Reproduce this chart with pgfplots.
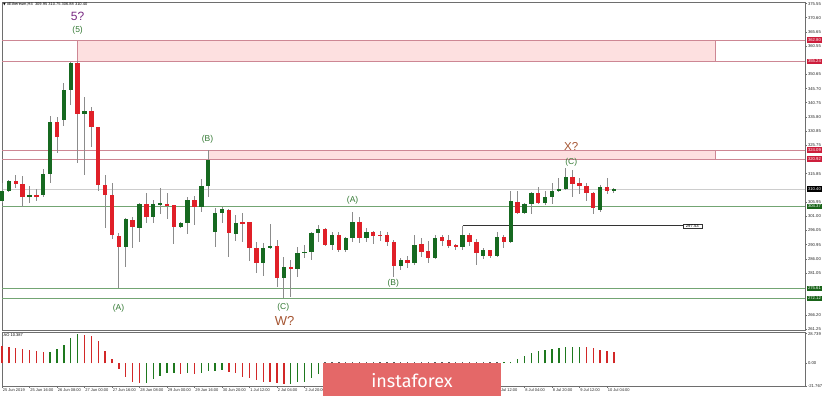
\documentclass[border=0pt]{standalone}
\usepackage{fontspec}
\setmainfont{Liberation Sans}
\newfontfamily\dejavu{DejaVu Sans}
\newfontfamily\bannerfont{Fira Sans}
\usepackage{pgfplots}
\pgfplotsset{compat=1.18}
\usepackage{pgfplotstable}

\definecolor{bullc}{RGB}{22,105,32}
\definecolor{bearc}{RGB}{224,32,40}
\definecolor{wickc}{RGB}{140,140,140}
\definecolor{aog}{RGB}{30,120,30}
\definecolor{aor}{RGB}{210,40,40}
\definecolor{zonefill}{RGB}{253,224,224}
\definecolor{zoneline}{RGB}{205,135,148}
\definecolor{zonered}{RGB}{205,30,60}
\definecolor{lvlgreen}{RGB}{115,165,115}
\definecolor{boxgreen}{RGB}{25,100,25}
\definecolor{curgray}{RGB}{205,205,205}
\definecolor{frame}{RGB}{110,110,110}
\definecolor{wpurple}{RGB}{120,40,130}
\definecolor{wgreen}{RGB}{50,120,50}
\definecolor{wbrown}{RGB}{165,85,50}
\definecolor{bannerc}{RGB}{228,104,104}

\pgfplotstableread{
i o h l c
0 306.3 312.5 305.5 309.9
1 309.8 313.7 309.3 313.4
4 307.7 311.7 305.7 308.2
6 308.2 317.4 307.6 315.6
7 315.6 336.1 312.7 333.9
9 334.7 347.6 332.6 345.3
10 345.3 355.1 340.0 354.6
12 336.8 342.9 315.4 337.9
18 290.0 300.2 283.2 299.9
20 296.7 305.5 292.0 305.2
22 300.8 306.6 298.5 305.1
23 305.2 311.0 301.7 305.5
26 297.3 299.0 296.7 298.5
27 298.5 307.8 294.7 306.6
29 304.3 313.9 302.5 311.6
30 311.6 324.2 307.8 320.7
31 295.5 303.7 290.3 302.2
32 302.2 304.1 298.7 303.5
34 294.7 301.4 292.4 298.5
38 284.4 291.4 280.0 289.7
39 289.7 298.1 289.3 290.5
41 279.1 286.5 272.1 283.0
43 282.3 290.3 279.7 287.9
44 287.9 290.8 286.2 288.5
45 288.5 295.5 285.6 295.2
46 295.2 297.9 292.0 296.5
48 290.8 295.5 289.1 294.4
50 288.9 293.8 288.5 293.2
51 293.2 302.5 292.0 298.8
53 293.2 296.7 292.0 295.5
58 283.5 286.2 282.1 285.6
60 284.4 294.4 283.8 290.8
63 286.2 294.4 285.8 293.4
67 290.0 297.5 288.9 294.4
70 287.0 289.7 285.8 289.1
72 287.0 295.5 286.7 293.8
74 291.8 309.6 291.7 306.1
76 302.0 305.7 301.7 305.1
77 305.1 309.6 301.7 309.2
79 305.7 309.6 304.9 307.6
80 307.6 312.5 305.2 309.8
81 309.8 314.2 309.6 310.4
82 310.4 317.8 310.1 314.8
87 303.1 311.9 302.5 311.1
89 309.95 310.75 308.9 310.40
}\bulltab

\pgfplotstableread{
i o h l c
2 313.3 315.4 310.7 312.1
3 312.1 315.1 304.0 307.6
5 308.2 310.5 306.3 308.0
8 333.9 335.9 323.0 328.6
11 354.6 355.3 319.5 336.8
13 337.9 339.4 325.1 332.4
14 332.1 332.4 309.9 311.9
15 311.9 315.4 296.7 308.4
16 308.4 312.7 292.8 294.4
17 294.1 294.9 275.6 290.0
19 299.6 300.8 289.7 297.0
21 305.2 309.0 298.7 300.6
24 305.2 309.0 299.9 304.6
25 304.8 305.0 291.2 297.0
28 306.6 308.0 297.9 304.3
33 303.1 303.4 286.5 294.9
35 298.7 302.2 292.0 298.5
36 298.8 299.0 285.3 289.7
37 289.7 292.0 280.9 284.4
40 290.5 292.6 276.0 279.1
42 283.0 285.6 272.7 282.3
47 296.5 296.7 290.5 290.8
49 294.4 295.5 288.5 288.9
52 298.8 300.8 291.7 293.2
54 295.5 295.8 291.2 294.1
55 294.4 295.9 292.4 294.1
56 294.4 295.5 290.5 292.0
57 292.0 292.6 279.5 283.6
59 285.6 286.8 282.7 284.4
61 291.2 293.2 286.7 288.5
62 288.7 292.2 284.4 286.2
64 293.5 294.4 290.5 292.4
65 292.6 294.4 289.7 290.5
66 290.6 291.2 289.1 290.4
68 294.4 294.9 290.3 292.0
69 292.0 292.8 283.8 287.9
71 288.9 289.1 286.2 287.0
73 293.8 294.4 289.7 291.8
75 305.8 309.9 301.7 302.0
78 309.2 311.3 305.2 305.7
83 314.8 317.2 307.6 312.3
84 312.5 314.2 308.7 311.7
85 311.7 312.5 306.1 309.0
86 309.0 309.6 301.7 303.7
88 311.1 314.2 308.7 309.9
}\beartab

\pgfplotsset{
  wickplot/.style={draw=none, mark=none, forget plot,
    error bars/.cd, y dir=both, y explicit, error mark=none,
    error bar style={draw=wickc, line width=0.9pt}},
  bodyplot/.style={draw=none, mark=none, forget plot,
    error bars/.cd, y dir=both, y explicit, error mark=none,
    error bar style={draw=#1, line width=4.4pt}},
}
\tikzset{
  pricebox/.style={anchor=west, xshift=1.5pt, text=white, inner sep=0.6pt,
    minimum width=15.5pt, minimum height=5.6pt,
    font=\fontsize{4.2}{5}\selectfont},
}

\begin{document}
\begin{tikzpicture}
\useasboundingbox (0pt,0pt) rectangle (823pt,396pt);

\begin{axis}[
  scale only axis, width=803pt, height=328pt,
  at={(2pt,66pt)}, anchor=south west,
  xmin=0, xmax=116.8, ymin=261.0, ymax=376.1,
  xtick=\empty,
  ytick={261.25,266.20,281.05,286.00,290.95,296.05,301.00,305.95,315.85,325.75,330.85,335.80,340.75,345.70,350.65,360.55,365.65,370.60,375.55},
  ytick pos=right, yticklabel pos=right,
  /pgf/number format/assume math mode=true,
  yticklabel={\pgfmathprintnumber[fixed,fixed zerofill,precision=2]{\tick}},
  yticklabel style={font=\fontsize{4.2}{5}\selectfont, text=black!85, inner sep=0.8pt},
  tick align=outside, major tick length=2pt,
  tick style={draw=frame, line width=0.5pt},
  axis line style={draw=frame, line width=0.9pt},
  clip=false,
]
% zones
\addplot[fill=zonefill, draw=zoneline, line width=0.6pt, forget plot]
  coordinates {(11,355.24) (103.8,355.24) (103.8,362.80) (11,362.80)} -- cycle;
\addplot[fill=zonefill, draw=zoneline, line width=0.6pt, forget plot]
  coordinates {(30,320.92) (103.8,320.92) (103.8,324.09) (30,324.09)} -- cycle;
% level lines
\addplot[zoneline, line width=0.7pt, forget plot] coordinates {(0,362.80) (116.8,362.80)};
\addplot[zoneline, line width=0.7pt, forget plot] coordinates {(0,355.24) (116.8,355.24)};
\addplot[zoneline, line width=0.7pt, forget plot] coordinates {(0,324.09) (116.8,324.09)};
\addplot[zoneline, line width=0.7pt, forget plot] coordinates {(0,320.92) (116.8,320.92)};
\addplot[curgray, line width=0.6pt, forget plot] coordinates {(0,310.40) (116.8,310.40)};
\addplot[lvlgreen, line width=0.7pt, forget plot] coordinates {(0,304.37) (116.8,304.37)};
\addplot[lvlgreen, line width=0.7pt, forget plot] coordinates {(0,275.61) (116.8,275.61)};
\addplot[lvlgreen, line width=0.7pt, forget plot] coordinates {(0,272.12) (116.8,272.12)};
\addplot[black!80, line width=1pt, forget plot] coordinates {(67,297.53) (99.0,297.53)};

% candles: wicks
\addplot[wickplot] table[x=i, y expr={(\thisrow{h}+\thisrow{l})/2}, y error expr={(\thisrow{h}-\thisrow{l})/2}] {\bulltab};
\addplot[wickplot] table[x=i, y expr={(\thisrow{h}+\thisrow{l})/2}, y error expr={(\thisrow{h}-\thisrow{l})/2}] {\beartab};
% candles: bodies
\addplot[bodyplot=bullc] table[x=i, y expr={(\thisrow{o}+\thisrow{c})/2}, y error expr={max(abs(\thisrow{c}-\thisrow{o})/2,0.18)}] {\bulltab};
\addplot[bodyplot=bearc] table[x=i, y expr={(\thisrow{o}+\thisrow{c})/2}, y error expr={max(abs(\thisrow{c}-\thisrow{o})/2,0.18)}] {\beartab};

% line label
\node[anchor=west, draw=black!80, fill=white, inner sep=0.6pt, minimum width=19pt,
  font=\fontsize{4.2}{5}\selectfont] at (axis cs:99.0,297.53) {297.53};

% wave labels
\node[text=wpurple, font=\fontsize{12}{12}\selectfont] at (axis cs:11,371.2) {5?};
\node[text=wgreen, font=\fontsize{8.5}{9}\selectfont] at (axis cs:11,366.0) {(5)};
\node[text=wgreen, font=\fontsize{8.5}{9}\selectfont] at (axis cs:29.9,328.05) {(B)};
\node[text=wgreen, font=\fontsize{8.5}{9}\selectfont] at (axis cs:16.95,268.7) {(A)};
\node[text=wgreen, font=\fontsize{8.5}{9}\selectfont] at (axis cs:51.0,306.5) {(A)};
\node[text=wgreen, font=\fontsize{8.5}{9}\selectfont] at (axis cs:40.9,269.1) {(C)};
\node[text=wbrown, font=\fontsize{13}{13}\selectfont] at (axis cs:41.1,264.2) {W?};
\node[text=wgreen, font=\fontsize{8.5}{9}\selectfont] at (axis cs:56.9,277.5) {(B)};
\node[text=wgreen, font=\fontsize{8.5}{9}\selectfont] at (axis cs:82.8,319.8) {(C)};
\node[text=wbrown, font=\fontsize{11.5}{12}\selectfont] at (axis cs:82.8,325.4) {X?};

% price boxes on the right
\node[pricebox, fill=zonered] at (axis cs:116.8,362.80) {362.80};
\node[pricebox, fill=zonered] at (axis cs:116.8,355.24) {355.24};
\node[pricebox, fill=zonered] at (axis cs:116.8,324.09) {324.09};
\node[pricebox, fill=zonered] at (axis cs:116.8,320.92) {320.92};
\node[pricebox, fill=black] at (axis cs:116.8,310.40) {310.40};
\node[pricebox, fill=boxgreen] at (axis cs:116.8,304.37) {304.37};
\node[pricebox, fill=boxgreen] at (axis cs:116.8,275.61) {275.61};
\node[pricebox, fill=boxgreen] at (axis cs:116.8,272.12) {272.12};
\end{axis}

\begin{axis}[
  scale only axis, width=803pt, height=54pt,
  at={(2pt,10pt)}, anchor=south west,
  xmin=0, xmax=116.8, ymin=-22.0, ymax=30.4,
  xtick={0,4,...,88},
  xticklabels={25 Jun 2019,25 Jun 16:00,26 Jun 08:00,27 Jun 00:00,27 Jun 16:00,28 Jun 08:00,29 Jun 00:00,29 Jun 16:00,30 Jun 20:00,1 Jul 12:00,2 Jul 04:00,2 Jul 20:00,{},{},{},{},{},{},7 Jul 12:00,8 Jul 04:00,8 Jul 20:00,9 Jul 12:00,10 Jul 04:00},
  xtick pos=bottom,
  xticklabel style={anchor=north west, font=\fontsize{4}{5}\selectfont, text=black!85, inner sep=0.6pt},
  ytick={-21.767,0,28.739},
  yticklabels={-21.767,0.00,28.739},
  ytick pos=right, yticklabel pos=right,
  yticklabel style={font=\fontsize{4.2}{5}\selectfont, text=black!85, inner sep=0.8pt},
  tick align=outside, major tick length=2pt,
  tick style={draw=frame, line width=0.5pt},
  axis line style={draw=frame, line width=0.9pt},
  clip=false,
]
\addplot[ycomb, aog, line width=1.3pt, mark=none, forget plot] coordinates {
(7,11.3)(8,13.9)(9,17.8)(10,24.3)(11,28.5)(21,-18.8)(22,-15.2)(23,-12.0)(24,-9.7)(25,-9.1)
(27,-9.7)(29,-9.7)(30,-7.1)(31,-7.0)(32,-6.5)(42,-20.1)(43,-18.4)(44,-17.8)(45,-14.6)(46,-10.4)
(73,1.0)(74,1.6)(75,4.2)(76,7.4)(77,9.7)(78,12.3)(79,12.9)(80,13.9)(81,14.6)(82,15.5)(83,16.2)(84,16.3)};
\addplot[ycomb, aor, line width=1.3pt, mark=none, forget plot] coordinates {
(0,16.8)(1,16.2)(2,15.2)(3,14.2)(4,12.9)(5,12.0)(6,10.7)(12,27.5)(13,26.9)(14,21.7)(15,12.3)(16,3.9)
(17,-5.5)(18,-12.9)(19,-17.8)(20,-19.4)(26,-10.4)(28,-10.7)(33,-8.1)(34,-9.7)(35,-13.6)(36,-14.0)
(37,-16.2)(38,-17.8)(39,-18.0)(40,-18.8)(41,-20.4)(85,16.1)(86,14.6)(87,12.9)(88,12.0)(89,10.7)};
\addplot[ycomb, black!65, line width=1.3pt, mark=none, forget plot] coordinates {
(47,0.9)(48,0.9)(49,0.9)(50,0.9)(51,0.9)(52,0.9)(53,0.9)(54,0.9)(55,0.9)(56,0.9)(57,0.9)(58,0.9)(59,0.9)
(60,0.9)(61,0.9)(62,0.9)(63,0.9)(64,0.9)(65,0.9)(66,0.9)(67,0.9)(68,0.9)(69,0.9)(70,0.9)(71,0.9)(72,0.9)};
\end{axis}

% header and indicator caption
\node[anchor=west, inner sep=0pt, font=\fontsize{4}{5}\selectfont] at (3pt,391.3pt)
  {{\dejavu\fontsize{3.5}{4}\selectfont ▼} \#Ethereum,H4\ \ 309.95 310.75 306.88 310.40};
\node[anchor=west, inner sep=0pt, font=\fontsize{4}{5}\selectfont] at (3.5pt,60.5pt) {AO 10.387};

% watermark banner
\fill[bannerc] (323pt,0pt) rectangle (501pt,33pt);
\node[text=white, font=\bannerfont\fontsize{18}{18}\selectfont] at (412pt,15.5pt) {instaforex};
\end{tikzpicture}
\end{document}
